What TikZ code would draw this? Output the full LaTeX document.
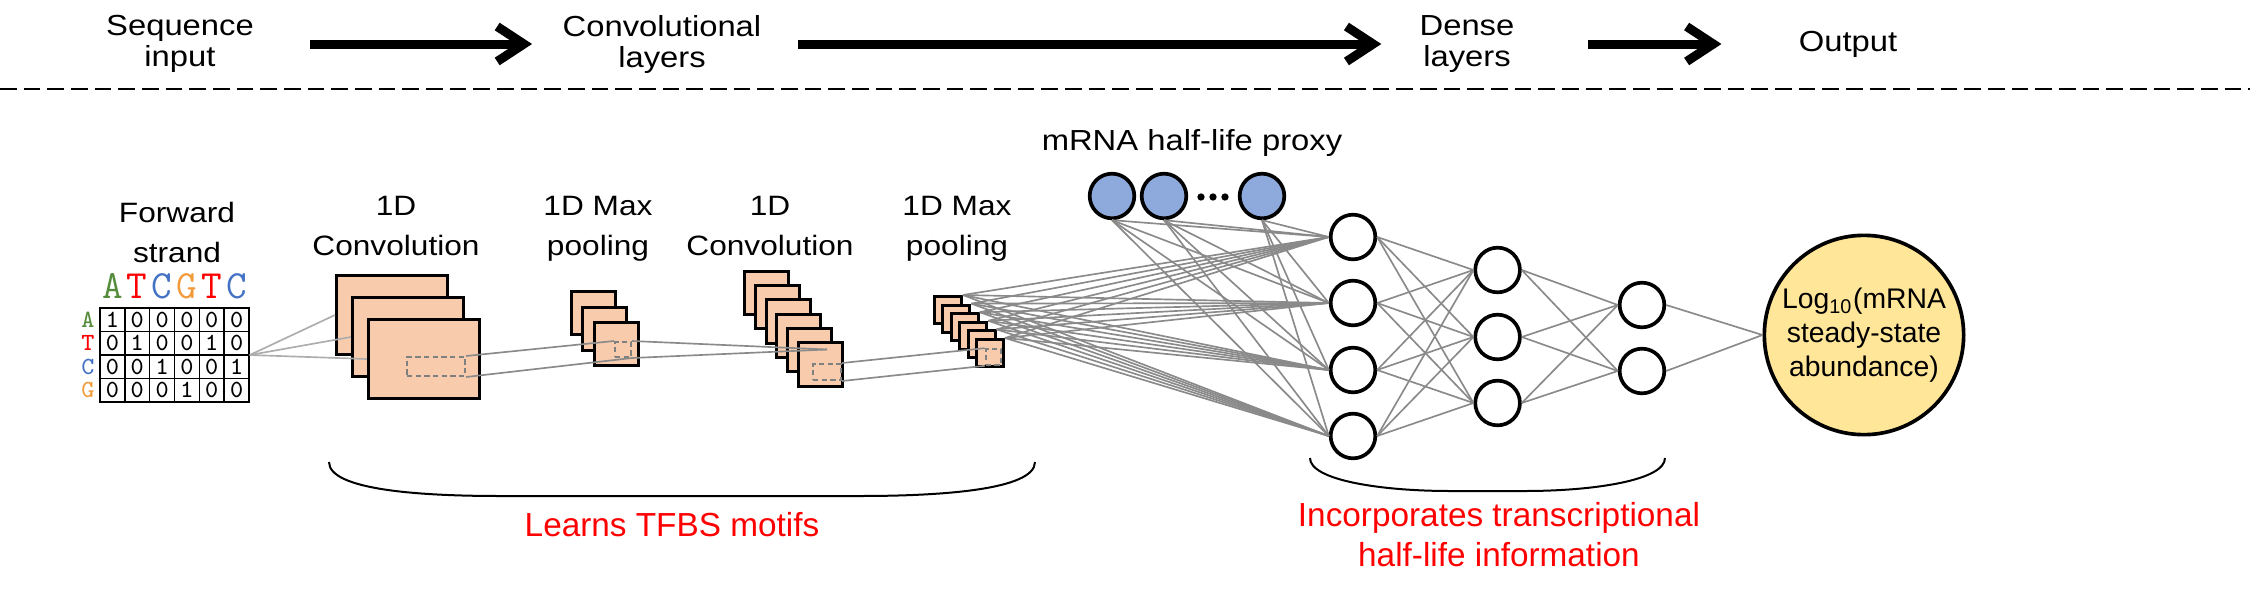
\documentclass[tikz,border=0pt]{standalone}
\usepackage{fontspec}
\setmainfont{Liberation Sans}
\newfontfamily\lblfont[FakeStretch=1.13]{Liberation Sans}
\usepackage{tikz}
\usetikzlibrary{arrows.meta, positioning, shapes.geometric}
\usepackage{xcolor}
\definecolor{fmapfill}{HTML}{F8CBAD}
\definecolor{proxyfill}{HTML}{8EA9DB}
\definecolor{outfill}{HTML}{FFE699}
\definecolor{wiregray}{HTML}{8A8A8A}
\definecolor{inwire}{HTML}{ADADAD}
\definecolor{ntA}{HTML}{548C3C}
\definecolor{ntT}{HTML}{FF0000}
\definecolor{ntC}{HTML}{4472C4}
\definecolor{ntG}{HTML}{F29B3C}

\begin{document}
\begin{tikzpicture}[x=0.3pt,y=-0.3pt,inner sep=0pt]
  \tikzstyle{toplabel}=[align=center,font=\lblfont\fontsize{8.7}{9.3}\selectfont]
  \tikzstyle{layerlabel}=[align=center,anchor=base,font=\lblfont\fontsize{8.4}{12}\selectfont]
  \tikzstyle{note}=[align=center,anchor=base,text=red,font=\fontsize{10}{12}\selectfont]
  \tikzstyle{bigarrow}=[line width=2.7pt,-{Straight Barb[length=8pt,width=10.5pt]}]
  \tikzstyle{fmap}=[draw,fill=fmapfill,line width=0.9pt]
  \tikzstyle{window}=[draw=gray,dash pattern=on 1.6pt off 1pt,line width=0.6pt]
  \tikzstyle{neuron}=[circle,draw,line width=1.1pt,fill=white,minimum size=13.4pt]
  \tikzstyle{wire}=[draw=wiregray,line width=0.5pt]
  \tikzstyle{bit}=[font=\ttfamily\fontsize{7.4}{7.4}\selectfont]

  \useasboundingbox (0,0) rectangle (2250,600);

  % header row
  \node[toplabel] (seqin)    at (180,44)  {Sequence\\input};
  \node[toplabel] (convlay)  at (662,44)  {Convolutional\\layers};
  \node[toplabel] (denselay) at (1467,44) {Dense\\layers};
  \node[toplabel] (outlay)   at (1848,44) {Output};
  \draw[bigarrow,shorten <=16.8pt,shorten >=9pt]  (seqin)    -- (convlay);
  \draw[bigarrow,shorten <=10.8pt,shorten >=11.3pt] (convlay)  -- (denselay);
  \draw[bigarrow,shorten <=22pt,shorten >=23pt]   (denselay) -- (outlay);

  \coordinate (divL) at (0,89);
  \coordinate (divR) at (2250,89);
  \draw[line width=0.6pt,dash pattern=on 5pt off 2.1pt] (divL) -- (divR);

  % one-hot input
  \node[layerlabel] (fwd) at (177,262) {Forward\\strand};
  \node[draw,line width=0.45pt,minimum width=44.7pt,minimum height=28.2pt] (onehot) at (174.5,355) {};
  \foreach \i in {1,...,5}
    \draw[line width=0.45pt] (100+\i*24.83,308) -- (100+\i*24.83,402);
  \foreach \j in {1,2,3}
    \draw[line width=0.45pt] (100,308+\j*23.5) -- (249,308+\j*23.5);
  \foreach \nt/\col [count=\i from 0] in {A/ntA,T/ntT,C/ntC,G/ntG,T/ntT,C/ntC}
    \node[text=\col,anchor=base,font=\ttfamily\fontsize{12}{12}\selectfont] (nt\i) at (112.4+\i*24.83,298) {\nt};
  \foreach \nt/\col [count=\j from 0] in {A/ntA,T/ntT,C/ntC,G/ntG}
    \node[bit,text=\col] (row\j) at (88,319.8+\j*23.5) {\nt};
  \foreach \row [count=\j from 0] in {{1,0,0,0,0,0},{0,1,0,0,1,0},{0,0,1,0,0,1},{0,0,0,1,0,0}}
    \foreach \v [count=\i from 0] in \row
      \node[bit] (bit\j\i) at (112.4+\i*24.83,319.8+\j*23.5) {\v};

  % convolution / pooling stacks
  \node[layerlabel] (c1lbl) at (396,255) {1D\\Convolution};
  \foreach \k in {0,1,2}
    \node[fmap,minimum width=33.2pt,minimum height=23.7pt] (cA\k) at (391.8+16*\k,315+22*\k) {};
  \node[window,minimum width=17.4pt,minimum height=5.7pt] (winA) at (436,366.5) {};

  \node[layerlabel] (p1lbl) at (598,255) {1D Max\\pooling};
  \foreach \k in {0,1,2}
    \node[fmap,minimum width=13.2pt,minimum height=12.8pt] (pA\k) at (593.2+11.7*\k,313.3+15.5*\k) {};
  \node[window,minimum width=4.8pt,minimum height=4.5pt] (winB) at (623,349.5) {};

  \node[layerlabel] (c2lbl) at (770,255) {1D\\Convolution};
  \foreach \k in {0,...,5}
    \node[fmap,minimum width=13.2pt,minimum height=13pt] (cB\k) at (766.5+10.8*\k,293+14.3*\k) {};
  \node[window,minimum width=8.4pt,minimum height=4.8pt] (winC) at (827,372) {};
  \coordinate (cBin) at (827,349.5);

  \node[layerlabel] (p2lbl) at (957,255) {1D Max\\pooling};
  \foreach \k in {0,...,5}
    \node[fmap,minimum width=8.1pt,minimum height=8.1pt] (pB\k) at (948+8.4*\k,310+8.6*\k) {};
  \node[window,minimum width=4.6pt,minimum height=4.7pt] (winD) at (993.4,357) {};

  % dense part
  \node[anchor=base,font=\lblfont\fontsize{8.7}{10}\selectfont] (proxy) at (1192,150) {mRNA half-life proxy};
  \foreach \x [count=\i] in {1112,1164,1262}
    \node[neuron,fill=proxyfill] (hl\i) at (\x,196) {};
  \foreach \x in {1201,1213,1225}
    \fill (\x,197) circle (1.1pt);
  \foreach \y [count=\i] in {237,303,370,436}
    \node[neuron] (dA\i) at (1353,\y) {};
  \foreach \y [count=\i] in {270,337,403}
    \node[neuron] (dB\i) at (1497.6,\y) {};
  \foreach \y [count=\i] in {305,371}
    \node[neuron] (dC\i) at (1642,\y) {};
  \node[circle,draw,line width=1.1pt,fill=outfill,minimum size=59.8pt,align=center,
        font=\fontsize{8.5}{10.2}\selectfont] (out) at (1864,335)
        {Log\textsubscript{10}(mRNA\\steady-state\\abundance)};

  % connections
  \foreach \k in {0,1,2}
    \draw[draw=inwire,line width=0.5pt] (onehot.east) -- (cA\k.west);
  \draw[wire] (winA.north east) -- (winB.north west);
  \draw[wire] (winA.south east) -- (winB.south east);
  \draw[wire] (winB.north east) -- (cBin);
  \draw[wire] (winB.south east) -- (cBin);
  \draw[wire] (winC.north east) -- (winD.north west);
  \draw[wire] (winC.south east) -- (winD.south west);
  \foreach \k in {0,...,5}
    \foreach \j in {1,...,4}
      \draw[wire] (pB\k.north east) -- (dA\j.west);
  \foreach \i in {1,2,3}
    \foreach \j in {1,...,4}
      \draw[wire] (hl\i.south) -- (dA\j.west);
  \foreach \i in {1,...,4}
    \foreach \j in {1,2,3}
      \draw[wire] (dA\i.east) -- (dB\j.west);
  \foreach \i in {1,2,3}
    \foreach \j in {1,2}
      \draw[wire] (dB\i.east) -- (dC\j.west);
  \foreach \i in {1,2}
    \draw[wire] (dC\i.east) -- (out.west);

  % braces and notes
  \draw[line width=0.6pt] (329,462) .. controls (329,490) and (420,496) .. (500,496)
    -- (860,496) .. controls (940,496) and (1035,490) .. (1035,462);
  \draw[line width=0.6pt] (1310,458) .. controls (1310,480) and (1380,491) .. (1450,491)
    -- (1525,491) .. controls (1595,491) and (1665,480) .. (1665,458);
  \node[note] (learn)  at (672,536.7)  {Learns TFBS motifs};
  \node[note] (incorp) at (1499,566.7) {Incorporates transcriptional\\half-life information};
\end{tikzpicture}
\end{document}
